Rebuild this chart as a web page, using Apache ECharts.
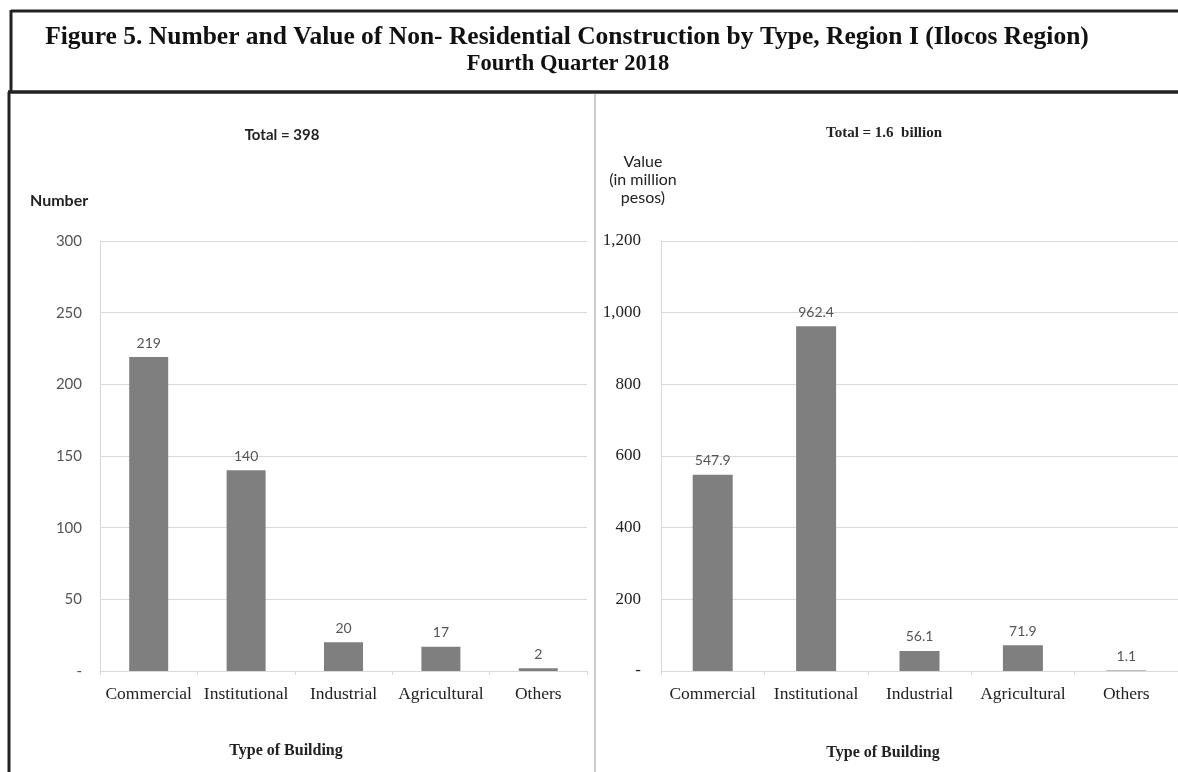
<!DOCTYPE html>
<html>
<head>
<meta charset="utf-8">
<script src="https://cdn.jsdelivr.net/npm/echarts@6/dist/echarts.min.js"></script>
<style>
  html, body { margin: 0; padding: 0; background: #fff; }
  #chart { width: 1178px; height: 772px; }
</style>
</head>
<body>
<div id="chart"></div>
<script>
// building types, shared by both panels
const categories = ['Commercial', 'Institutional', 'Industrial', 'Agricultural', 'Others'];
// number of non-residential constructions
const numberValues = [219, 140, 20, 17, 2];
// value in million pesos
const valueValues = [547.9, 962.4, 56.1, 71.9, 1.1];
const numberTicks = [0, 50, 100, 150, 200, 250, 300];
const valueTicks = [0, 200, 400, 600, 800, 1000, 1200];

const SERIF = '"Liberation Serif", "Times New Roman", serif';
const SANS = 'Lato, "Open Sans", sans-serif';
const BAR = '#7f7f7f';
const GRID = '#d9d9d9';

const chart = echarts.init(document.getElementById('chart'));

const fmtComma = v => v === 0 ? '-' : v.toLocaleString('en-US');

function xAxisFor(idx) {
  return {
    type: 'category',
    gridIndex: idx,
    data: categories,
    axisLine: { lineStyle: { color: GRID } },
    axisTick: { show: true, length: 4, lineStyle: { color: GRID } },
    axisLabel: { interval: 0, fontFamily: SERIF, fontSize: 17.5, color: '#222', margin: 14 }
  };
}

const heading = (text, left, top, font, size, weight, align) => ({
  text: text, left: left, top: top, textAlign: align || 'left',
  textStyle: { fontFamily: font, fontSize: size, fontWeight: weight, color: '#222', lineHeight: 18 }
});

const option = {
  animation: false,
  backgroundColor: '#fff',
  title: [
    {
      text: 'Figure 5. Number and Value of Non- Residential Construction by Type, Region I (Ilocos Region)',
      left: 562, top: 19, textAlign: 'center',
      textStyle: { fontFamily: SERIF, fontSize: 25.5, fontWeight: 'bold', color: '#111' }
    },
    {
      text: 'Fourth Quarter 2018',
      left: 563, top: 48, textAlign: 'center',
      textStyle: { fontFamily: SERIF, fontSize: 22.5, fontWeight: 'bold', color: '#111' }
    },
    heading('Total = 398', 277, 121, SANS, 15, 'bold', 'center'),
    heading('Number', 25, 187, SANS, 16, 'bold'),
    heading('Total = 1.6  billion', 879, 119, SERIF, 15, 'bold', 'center'),
    {
      text: 'Value\n(in million\npesos)',
      left: 638, top: 148, textAlign: 'center',
      textStyle: { fontFamily: SANS, fontSize: 16, fontWeight: 'normal', color: '#222', lineHeight: 18, align: 'center' }
    },
    heading('Type of Building', 281, 737, SERIF, 16, 'bold', 'center'),
    heading('Type of Building', 878, 739, SERIF, 16, 'bold', 'center')
  ],
  grid: [
    { left: 100, top: 241, width: 487, height: 430 },
    { left: 661, top: 241, width: 527, height: 430 }
  ],
  xAxis: [xAxisFor(0), xAxisFor(1)],
  yAxis: [
    {
      type: 'value',
      gridIndex: 0,
      min: numberTicks[0],
      max: numberTicks[numberTicks.length - 1],
      interval: numberTicks[1] - numberTicks[0],
      axisLine: { show: true, lineStyle: { color: GRID } },
      axisTick: { show: false },
      splitLine: { lineStyle: { color: GRID } },
      axisLabel: { fontFamily: SANS, fontSize: 15, color: '#555', margin: 18, formatter: fmtComma }
    },
    {
      type: 'value',
      gridIndex: 1,
      min: valueTicks[0],
      max: valueTicks[valueTicks.length - 1],
      interval: valueTicks[1] - valueTicks[0],
      axisLine: { show: true, lineStyle: { color: GRID } },
      axisTick: { show: false },
      splitLine: { lineStyle: { color: GRID } },
      axisLabel: { fontFamily: SERIF, fontSize: 17, color: '#222', margin: 20, formatter: fmtComma }
    }
  ],
  series: [
    {
      type: 'bar',
      xAxisIndex: 0,
      yAxisIndex: 0,
      data: numberValues,
      barWidth: 39,
      itemStyle: { color: BAR },
      label: { show: true, position: 'top', distance: 7, fontFamily: SANS, fontSize: 14, color: '#555' }
    },
    {
      type: 'bar',
      xAxisIndex: 1,
      yAxisIndex: 1,
      data: valueValues,
      barWidth: 40,
      itemStyle: { color: BAR },
      label: {
        show: true, position: 'top', distance: 7, fontFamily: SANS, fontSize: 14, color: '#555',
        formatter: p => p.value.toFixed(1)
      }
    }
  ],
  graphic: [
    // figure frame
    { type: 'line', shape: { x1: 11, y1: 11, x2: 1178, y2: 11 }, style: { stroke: '#222', lineWidth: 3 } },
    { type: 'line', shape: { x1: 11, y1: 10, x2: 11, y2: 92 }, style: { stroke: '#222', lineWidth: 3 } },
    { type: 'line', shape: { x1: 9, y1: 92, x2: 9, y2: 772 }, style: { stroke: '#222', lineWidth: 3 } },
    { type: 'line', shape: { x1: 8, y1: 92, x2: 1178, y2: 92 }, style: { stroke: '#222', lineWidth: 3.5 } },
    { type: 'line', shape: { x1: 595, y1: 94, x2: 595, y2: 772 }, style: { stroke: '#999', lineWidth: 1 } }
  ]
};

chart.setOption(option);
</script>
</body>
</html>
